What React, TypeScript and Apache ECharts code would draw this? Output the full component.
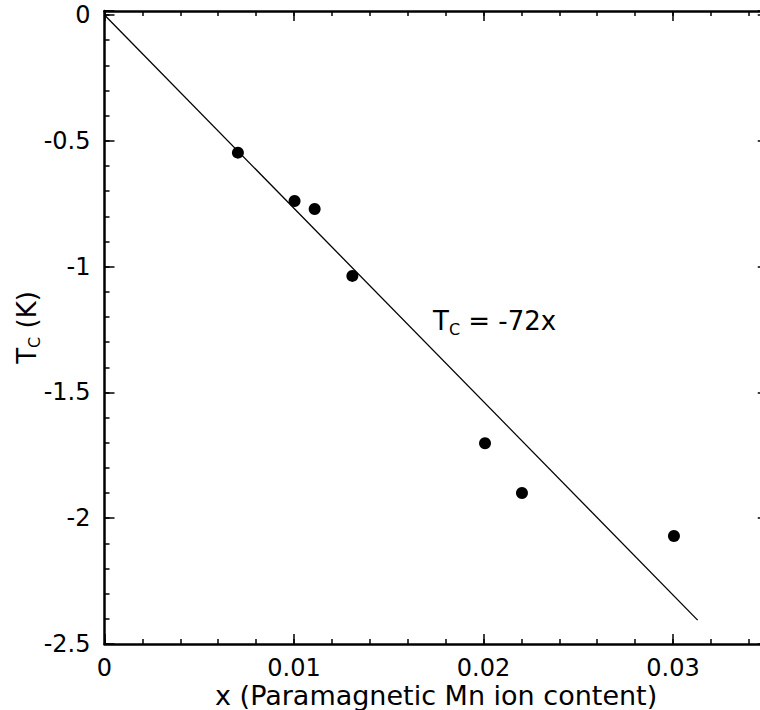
import React, { useEffect, useRef } from "react";
import * as echarts from "echarts";

// Data
const xValues: number[] = [0.00704, 0.01003, 0.01109, 0.01308, 0.02008, 0.02203, 0.03005];
const tcValues: number[] = [-0.547, -0.739, -0.771, -1.037, -1.702, -1.9, -2.071];
const fitX: number[] = [0, 0.0313];
const fitY: number[] = [0, -2.405];
const xTickStep = 0.01;
const xMinorStep = 0.002;
const yTickStep = 0.5;
const yMinorStep = 0.1;
const xRange = [0, 0.035];
const yRange = [-2.5, 0.016];
const xAxisTitle = "x (Paramagnetic Mn ion content)";
const annotation = "T{s|C} = -72x";
const yAxisTitle = "T{s|C} (K)";

const FONT = "DejaVu Sans";

const fmtX = (v: number) => {
  const k = Math.round(v / xTickStep);
  if (Math.abs(v - k * xTickStep) > 1e-9) return "";
  return k === 0 ? "0" : (k * xTickStep).toFixed(2);
};
const fmtY = (v: number) => {
  const k = Math.round(v / yTickStep);
  if (Math.abs(v - k * yTickStep) > 1e-9) return "";
  const r = k * yTickStep;
  return r === 0 ? "0" : String(r);
};

export default function App() {
  const ref = useRef<HTMLDivElement>(null);
  useEffect(() => {
    if (!ref.current) return;
    const chart = echarts.init(ref.current, undefined, { renderer: "svg" });
    const black = "#000";
    const baseX = {
      type: "value" as const,
      min: xRange[0],
      max: xRange[1],
      splitLine: { show: false },
    };
    const baseY = {
      type: "value" as const,
      min: yRange[0],
      max: yRange[1],
      splitLine: { show: false },
    };
    const scatterData = xValues.map((x, i) => [x, tcValues[i]]);
    const fitData = fitX.map((x, i) => [x, fitY[i]]);
    chart.setOption({
      animation: false,
      backgroundColor: "#fff",
      textStyle: { fontFamily: FONT },
      grid: {
        left: 104.5,
        top: 11,
        width: 663.25,
        height: 633,
        containLabel: false,
        outerBoundsMode: "none",
      },
      xAxis: [
        {
          ...baseX,
          position: "bottom",
          interval: xTickStep,
          axisLine: { show: true, onZero: false, lineStyle: { color: black, width: 2.5 } },
          axisTick: { show: true, inside: true, length: 10, lineStyle: { color: black, width: 1.5 } },
          axisLabel: { show: true, formatter: fmtX, color: black, fontSize: 24, fontFamily: FONT, margin: 12 },
          name: xAxisTitle,
          nameLocation: "middle",
          nameGap: 38,
          nameMoveOverlap: false,
          nameTextStyle: { color: black, fontSize: 27, fontFamily: FONT },
        },
        {
          ...baseX,
          position: "bottom",
          interval: xMinorStep,
          axisLine: { show: false, onZero: false },
          axisTick: { show: true, inside: true, length: 5, lineStyle: { color: black, width: 1.5 } },
          axisLabel: { show: false },
        },
        {
          ...baseX,
          position: "top",
          interval: xTickStep,
          axisLine: { show: true, onZero: false, lineStyle: { color: black, width: 2.5 } },
          axisTick: { show: true, inside: true, length: 10, lineStyle: { color: black, width: 1.5 } },
          axisLabel: { show: false },
        },
        {
          ...baseX,
          position: "top",
          interval: xMinorStep,
          axisLine: { show: false, onZero: false },
          axisTick: { show: true, inside: true, length: 5, lineStyle: { color: black, width: 1.5 } },
          axisLabel: { show: false },
        },
      ],
      yAxis: [
        {
          ...baseY,
          position: "left",
          interval: yTickStep,
          axisLine: { show: true, onZero: false, lineStyle: { color: black, width: 2.5 } },
          axisTick: { show: true, inside: true, length: 10, lineStyle: { color: black, width: 1.5 } },
          axisLabel: { show: true, formatter: fmtY, color: black, fontSize: 24, fontFamily: FONT, margin: 14 },
          name: yAxisTitle,
          nameLocation: "middle",
          nameGap: 62,
          nameMoveOverlap: false,
          nameTextStyle: {
            color: black,
            fontSize: 26,
            fontFamily: FONT,
            lineHeight: 32,
            rich: { s: { fontSize: 16, fontFamily: FONT, verticalAlign: "bottom", lineHeight: 16 } },
          },
        },
        {
          ...baseY,
          position: "left",
          interval: yMinorStep,
          axisLine: { show: false, onZero: false },
          axisTick: { show: true, inside: true, length: 5, lineStyle: { color: black, width: 1.5 } },
          axisLabel: { show: false },
        },
        {
          ...baseY,
          position: "right",
          interval: yTickStep,
          axisLine: { show: true, onZero: false, lineStyle: { color: black, width: 2.5 } },
          axisTick: { show: true, inside: true, length: 10, lineStyle: { color: black, width: 1.5 } },
          axisLabel: { show: false },
        },
        {
          ...baseY,
          position: "right",
          interval: yMinorStep,
          axisLine: { show: false, onZero: false },
          axisTick: { show: true, inside: true, length: 5, lineStyle: { color: black, width: 1.5 } },
          axisLabel: { show: false },
        },
      ],
      series: [
        {
          type: "line",
          xAxisIndex: 0,
          yAxisIndex: 0,
          data: fitData,
          showSymbol: false,
          symbol: "none",
          lineStyle: { color: black, width: 1.3 },
          z: 2,
          silent: true,
        },
        {
          type: "scatter",
          xAxisIndex: 0,
          yAxisIndex: 0,
          data: scatterData,
          symbol: "circle",
          symbolSize: 12,
          itemStyle: { color: black, opacity: 1 },
          z: 3,
        },
      ],
      graphic: [
        {
          type: "text",
          x: 433,
          y: 321,
          style: {
            text: annotation,
            fill: black,
            fontSize: 26,
            fontFamily: FONT,
            verticalAlign: "middle",
            align: "left",
            lineHeight: 32,
            rich: { s: { fontSize: 16, fontFamily: FONT, verticalAlign: "bottom", lineHeight: 16, fill: black } },
          },
        },
      ],
    });
    return () => chart.dispose();
  }, []);
  return (
    <div
      ref={ref}
      style={{ position: "absolute", left: 0, top: 0, width: 760, height: 710, overflow: "hidden" }}
    />
  );
}
